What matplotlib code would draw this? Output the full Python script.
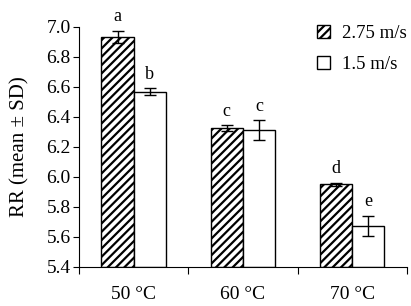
import numpy as np
import matplotlib
matplotlib.use("Agg")
import matplotlib.pyplot as plt

plt.rcParams['font.family'] = ['Liberation Serif', 'DejaVu Serif']
plt.rcParams['hatch.linewidth'] = 1.6

# Dados
temps = ['50 °C', '60 °C', '70 °C']
rr_fast = [6.935, 6.325, 5.953]
sd_fast = [0.04, 0.02, 0.01]
rr_slow = [6.567, 6.313, 5.673]
sd_slow = [0.023, 0.065, 0.068]
let_fast = ['a', 'c', 'd']
let_slow = ['b', 'c', 'e']

fig = plt.figure(figsize=(4.11, 3.06), dpi=100)
ax = fig.add_axes([0.192, 0.1275, 0.798, 0.7845])

x = np.arange(len(temps)) + 0.5
w = 0.294

ax.bar(x - w/2, np.array(rr_fast) - 5.4, w, bottom=5.4, color='white', edgecolor='black',
       hatch='////', linewidth=1.0, label='2.75 m/s', zorder=2)
ax.bar(x + w/2, np.array(rr_slow) - 5.4, w, bottom=5.4, color='white', edgecolor='black',
       linewidth=1.0, label='1.5 m/s', zorder=2)
ax.errorbar(x - w/2, rr_fast, yerr=sd_fast, fmt='none', ecolor='black', elinewidth=1, capsize=4, zorder=3)
ax.errorbar(x + w/2, rr_slow, yerr=sd_slow, fmt='none', ecolor='black', elinewidth=1, capsize=4, zorder=3)

for xi, v, s, l in zip(x - w/2, rr_fast, sd_fast, let_fast):
    ax.annotate(l, (xi, v + s), xytext=(0, 4), textcoords='offset points', ha='center', va='bottom', fontsize=13)
for xi, v, s, l in zip(x + w/2, rr_slow, sd_slow, let_slow):
    ax.annotate(l, (xi, v + s), xytext=(0, 4), textcoords='offset points', ha='center', va='bottom', fontsize=13)

ax.set_ylim(5.4, 7.0)
ax.set_xlim(0, 3)
ax.set_yticks(np.arange(5.4, 7.01, 0.2))
ax.set_yticklabels(['%.1f' % t for t in np.arange(5.4, 7.01, 0.2)], fontsize=14)
ax.set_xticks([0, 1, 2, 3])
ax.set_xticklabels([])
ax.set_xticks(x, minor=True)
ax.set_xticklabels(temps, minor=True, fontsize=14)
ax.tick_params(axis='x', which='minor', length=0, pad=14)
ax.tick_params(axis='x', which='major', direction='out', length=5)
ax.tick_params(axis='y', direction='out', length=4, pad=2)
ax.spines['top'].set_visible(False)
ax.spines['right'].set_visible(False)
ax.set_ylabel('RR (mean ± SD)', fontsize=15, labelpad=12)

ax.legend(loc='upper right', bbox_to_anchor=(1.05, 1.08), frameon=False, fontsize=13.5,
          handlelength=0.7, handleheight=0.7, handletextpad=0.6, labelspacing=0.75)

plt.savefig('out.png', dpi=100)
